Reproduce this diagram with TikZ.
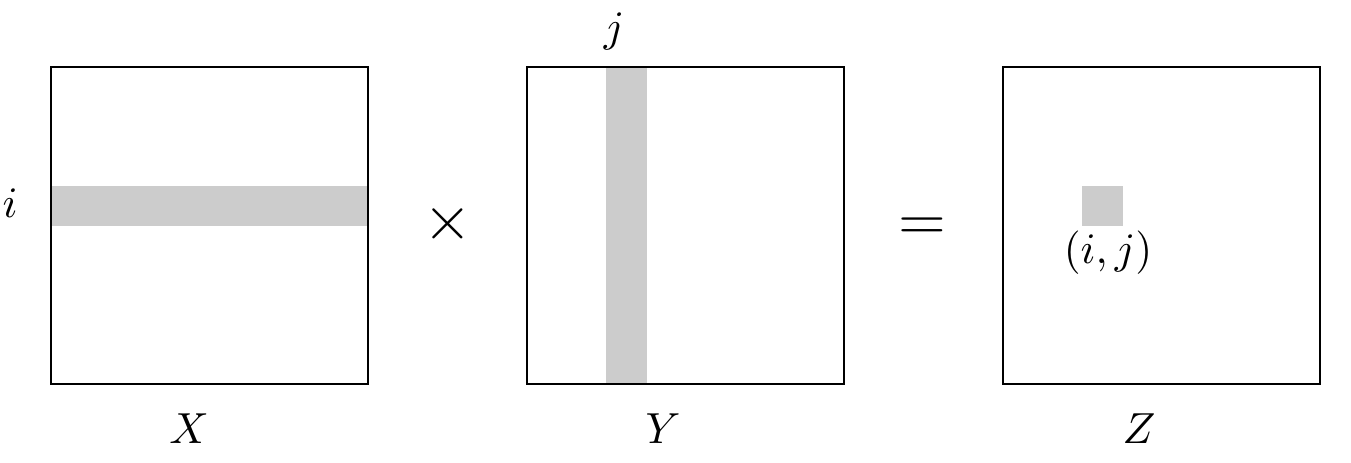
\documentclass[tikz,border=0pt]{standalone}
\begin{document}
\begin{tikzpicture}[x=0.23pt,y=-0.23pt,
  mat/.style={draw=black,line width=0.46pt},
  hl/.style={fill=black!20},
  lbl/.style={inner sep=0pt,anchor=base},
  op/.style={inner sep=0pt,anchor=base,font=\Large}]
\useasboundingbox (0,0) rectangle (1351,462);
% highlights
\fill[hl] (51,186) rectangle (368,225.5);
\fill[hl] (606,67) rectangle (646.5,384);
\fill[hl] (1082,186) rectangle (1122.5,225.5);
% matrices
\draw[mat] (51,67) rectangle (368,384);
\draw[mat] (527,67) rectangle (844,384);
\draw[mat] (1003,67) rectangle (1320,384);
% labels
\node[lbl] (li) at (10,218) {$i$};
\node[lbl] (lj) at (614,42) {$j$};
\node[lbl] (lX) at (189,443) {$X$};
\node[lbl] (lY) at (663,443) {$Y$};
\node[lbl] (lZ) at (1139,443) {$Z$};
\node[op] (times) at (448,239.5) {$\times$};
\node[op] (eq) at (922,240.5) {$=$};
\node[lbl] (lij) at (1108,263.5) {$(i,j)$};
\end{tikzpicture}
\end{document}
